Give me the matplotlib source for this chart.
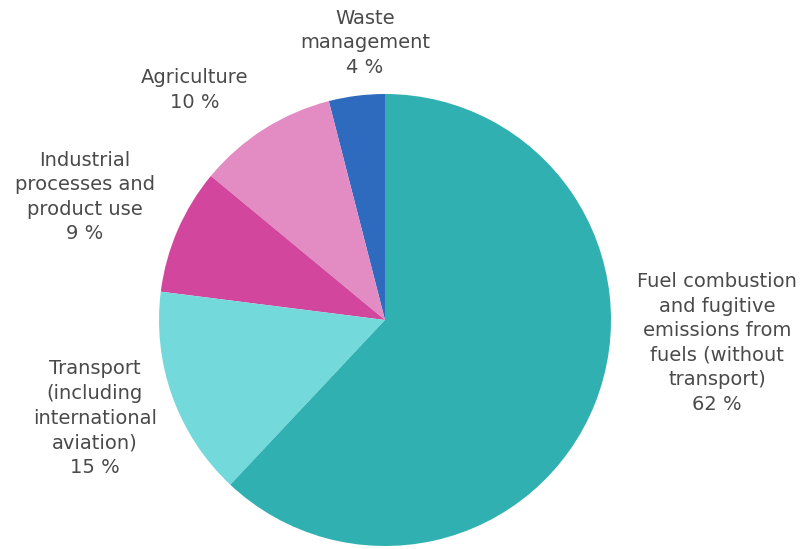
import matplotlib
matplotlib.use("Agg")
import matplotlib.pyplot as plt

W, H = 807, 549

categories = ["Waste\nmanagement", "Agriculture", "Industrial\nprocesses and\nproduct use",
              "Transport\n(including\ninternational\naviation)",
              "Fuel combustion\nand fugitive\nemissions from\nfuels (without\ntransport)"]
values = [4, 10, 9, 15, 62]
colors = ["#2E6BBE", "#E28CC3", "#D2479D", "#74D9DA", "#30B0B0"]

# label anchor positions (pixel coords, top-left origin)
label_pos = [(365, 43), (195, 90), (85, 197), (95, 418), (717, 343)]

fig = plt.figure(figsize=(W / 100, H / 100), dpi=100)
ax = fig.add_axes([0, 0, 1, 1])

cx, cy, r = 385, 320, 226
ax.pie(values, colors=colors, startangle=90, counterclock=True,
       center=(cx, H - cy), radius=r, frame=True,
       wedgeprops=dict(linewidth=0))
ax.set_xlim(0, W)
ax.set_ylim(0, H)
ax.set_aspect("equal")
ax.axis("off")

for cat, v, (x, y) in zip(categories, values, label_pos):
    ax.text(x, H - y, f"{cat}\n{v} %", ha="center", va="center",
            fontsize=14, color="#4A4A4A", family="DejaVu Sans",
            linespacing=1.37)

fig.savefig("out.png", dpi=100)
